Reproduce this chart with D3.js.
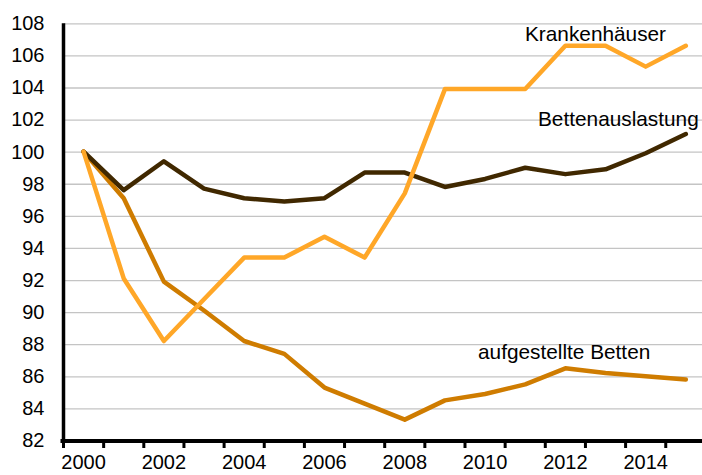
<!DOCTYPE html>
<html>
<head>
<meta charset="utf-8">
<script src="https://cdn.jsdelivr.net/npm/d3@7"></script>
<style>
  body { margin: 0; background: #fff; }
  svg { display: block; font-family: "Liberation Sans", Arial, sans-serif; }
</style>
</head>
<body>
<div id="chart"></div>
<script>
// Index 2000 = 100
const years = d3.range(2000, 2016);
const krankenhaeuser = [100, 92.1, 88.2, 90.8, 93.4, 93.4, 94.7, 93.4, 97.4, 103.9, 103.9, 103.9, 106.6, 106.6, 105.3, 106.6];
const bettenauslastung = [100, 97.6, 99.4, 97.7, 97.1, 96.9, 97.1, 98.7, 98.7, 97.8, 98.3, 99.0, 98.6, 98.9, 99.9, 101.1];
const aufgestellteBetten = [100, 97.1, 91.9, 90.1, 88.2, 87.4, 85.3, 84.3, 83.3, 84.5, 84.9, 85.5, 86.5, 86.2, 86.0, 85.8];
const yTicks = d3.range(82, 109, 2);
const xLabels = [2000, 2002, 2004, 2006, 2008, 2010, 2012, 2014];

const W = 702, H = 475;
const plotLeft = 63.5, plotTop = 23.3, plotBottom = 440.5;
const fontSize = "20px";

const svg = d3.select("#chart").append("svg")
  .attr("width", W)
  .attr("height", H);

const x = d3.scaleBand()
  .domain(years)
  .range([plotLeft, plotLeft + 16 * 40.15])
  .padding(0);

const y = d3.scaleLinear()
  .domain([82, 108])
  .range([plotBottom, plotTop]);

// grid lines + y labels
const yAxis = svg.append("g")
  .attr("transform", "translate(" + plotLeft + ",0)")
  .call(d3.axisLeft(y).tickValues(yTicks).tickSize(-(W - plotLeft)).tickPadding(19));
yAxis.select(".domain").remove();
yAxis.selectAll(".tick line")
  .attr("stroke", "#c4c4c4")
  .attr("stroke-width", 1.3)
  .attr("opacity", (d) => d == 82 ? 0 : 1);
yAxis.selectAll(".tick text")
  .attr("font-size", fontSize)
  .attr("font-family", "Liberation Sans, Arial, sans-serif")
  .attr("fill", "#000");

// x labels, centred on the year bands
const xAxis = svg.append("g")
  .attr("transform", "translate(0," + plotBottom + ")")
  .call(d3.axisBottom(x).tickValues(xLabels).tickSize(0).tickPadding(14));
xAxis.select(".domain").remove();
xAxis.selectAll(".tick text")
  .attr("font-size", fontSize)
  .attr("font-family", "Liberation Sans, Arial, sans-serif")
  .attr("fill", "#000");

// tick marks on band boundaries
svg.append("g").selectAll("line")
  .data(years)
  .enter().append("line")
  .attr("x1", (d) => x(d))
  .attr("x2", (d) => x(d))
  .attr("y1", plotBottom)
  .attr("y2", plotBottom + 7.5)
  .attr("stroke", "#000")
  .attr("stroke-width", 3);

// axis lines
svg.append("line")
  .attr("x1", plotLeft).attr("x2", plotLeft)
  .attr("y1", y(108)).attr("y2", plotBottom + 2.5)
  .attr("stroke", "#000").attr("stroke-width", 3.5);
svg.append("line")
  .attr("x1", plotLeft - 3).attr("x2", W)
  .attr("y1", plotBottom + 0.5).attr("y2", plotBottom + 0.5)
  .attr("stroke", "#000").attr("stroke-width", 4);

const line = d3.line()
  .x((d, i) => x(years[i]) + x.bandwidth() / 2)
  .y((d) => y(d));

const series = [
  { values: aufgestellteBetten, color: "#cf7c00" },
  { values: bettenauslastung, color: "#402800" },
  { values: krankenhaeuser, color: "#ffa728" }
];

svg.append("g").selectAll("path")
  .data(series)
  .enter().append("path")
  .attr("d", (d) => line(d.values))
  .attr("fill", "none")
  .attr("stroke", (d) => d.color)
  .attr("stroke-width", 4.5)
  .attr("stroke-linejoin", "round")
  .attr("stroke-linecap", "round");

// series labels
const labels = [
  { text: "Krankenhäuser", x: 525, y: 41 },
  { text: "Bettenauslastung", x: 538, y: 126 },
  { text: "aufgestellte Betten", x: 478, y: 359 }
];
svg.append("g").selectAll("text")
  .data(labels)
  .enter().append("text")
  .attr("x", (d) => d.x)
  .attr("y", (d) => d.y)
  .attr("font-size", "20.8px")
  .attr("fill", "#000")
  .text((d) => d.text);
</script>
</body>
</html>
